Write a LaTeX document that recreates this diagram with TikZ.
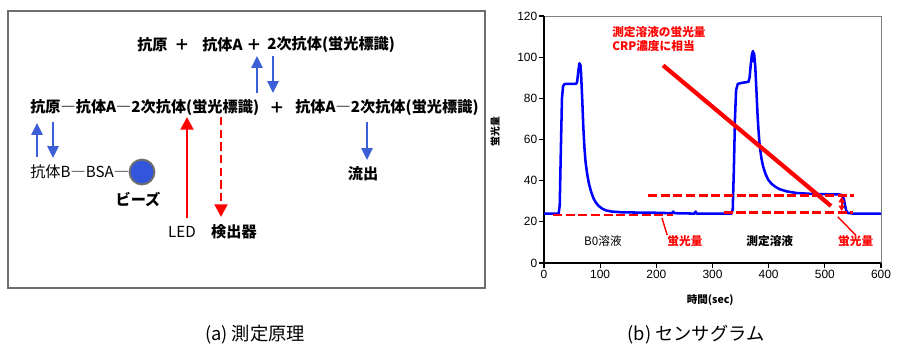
\documentclass[tikz,border=0pt]{standalone}
\usepackage{fontspec}
\setmainfont{Liberation Sans}
\newfontfamily\jp{Noto Sans CJK JP}
\usetikzlibrary{arrows.meta,positioning}
\definecolor{arrowblue}{RGB}{60,95,215}
\definecolor{beadblue}{RGB}{50,85,220}
\definecolor{framegray}{RGB}{110,110,110}

\begin{document}
\begin{tikzpicture}
[x=0.025cm, y=-0.025cm,
 labelB/.style={inner sep=0pt, font=\jp\bfseries\fontsize{10.8}{12}\selectfont},
 labelR/.style={inner sep=0pt, font=\jp\fontsize{10.8}{12}\selectfont},
 beadC/.style={circle, draw=framegray, line width=1.4pt, fill=beadblue, minimum size=0.62cm, inner sep=0pt},
 captionT/.style={inner sep=0pt, font=\jp\fontsize{13}{15}\selectfont},
 blue path/.style={draw=arrowblue, line width=1.3pt, -{Triangle[width=8pt,length=8.5pt]}},
 red path/.style={draw=red, line width=2pt, -{Triangle[width=9pt,length=9pt]}},
 red dash path/.style={red path, dash pattern=on 6pt off 3pt},
 plotlbl/.style={inner sep=0pt, font=\jp\bfseries\fontsize{8.3}{10}\selectfont},
 ticklbl/.style={inner sep=1pt, font=\fontsize{8.5}{9}\selectfont},
 sgcurve/.style={draw=blue, line width=1.8pt, line join=round},
 levelline/.style={draw=red, line width=2pt, dash pattern=on 6.5pt off 2.5pt}]
\useasboundingbox (0,0) rectangle (900,363);
% (a) principle
\draw[framegray, line width=1pt] (8,11) rectangle (485,288);
\node[labelB, anchor=west] (ag)    at (137,45)  {抗原};
\node[labelB]              (pl1)   at (182,45)  {＋};
\node[labelB, anchor=west] (abA)   at (202,45)  {抗体A};
\node[labelB]              (pl2)   at (254,45)  {＋};
\node[labelB, anchor=west] (ab2)   at (267,45)  {2次抗体(蛍光標識)};
\node[labelB, anchor=west] (cplx)  at (30,108)  {抗原―抗体A―2次抗体(蛍光標識)};
\node[labelB]              (pl3)   at (277,108) {＋};
\node[labelB, anchor=west] (free)  at (295,108) {抗体A―2次抗体(蛍光標識)};
\node[labelR, anchor=west] (abB)   at (30,172)  {抗体B―BSA―};
\node[beadC]               (bead)  at (142,172) {};
\node[labelB]              (beadL) at (138,199) {ビーズ};
\node[labelR]              (led)   at (182,232) {LED};
\node[labelB]              (det)   at (234,232) {検出器};
\node[labelB]              (out)   at (363,174) {流出};
\coordinate (upL1)  at ( 37,157);
\coordinate (upL2)  at ( 37,123);
\coordinate (dnL1)  at ( 53,122);
\coordinate (dnL2)  at ( 53,158);
\coordinate (upT1)  at (257, 93);
\coordinate (upT2)  at (257, 56);
\coordinate (dnT1)  at (273, 56);
\coordinate (dnT2)  at (273, 93);
\coordinate (dnR1)  at (367,122);
\coordinate (dnR2)  at (367,160);
\coordinate (ledS)  at (187,218);
\coordinate (ledE)  at (187,117);
\coordinate (detS)  at (221,117);
\coordinate (detE)  at (221,217);
\path (upL1) edge[blue path] (upL2)
      (dnL1) edge[blue path] (dnL2)
      (upT1) edge[blue path] (upT2)
      (dnT1) edge[blue path] (dnT2)
      (dnR1) edge[blue path] (dnR2)
      (ledS) edge[red path] (ledE)
      (detS) edge[red dash path] (detE);
% (b) sensorgram
\begin{scope}[shift={(544,263)}, x=0.014043cm, y=0.05145cm]
\draw[gray, line width=0.6pt] (0,0) rectangle (600,120);
\draw[black, line width=1pt] (0,120) -- (0,0) -- (600,0);
\foreach \v in {0,20,...,120}
  \draw[line width=0.8pt] (0,\v) -- ++(-0.12cm,0) node[ticklbl, anchor=east] {\v};
\foreach \t in {0,100,...,600}
  \draw[line width=0.8pt] (\t,0) -- ++(0,-0.12cm) node[ticklbl, anchor=north] {\t};
\node[plotlbl, rotate=90, font=\jp\bfseries\fontsize{7}{8}\selectfont] (ylab) at (-87,64) {蛍光量};
\node[plotlbl, font=\jp\bfseries\fontsize{7.5}{9}\selectfont] (xlab) at (296,-18) {時間(sec)};
\draw[sgcurve] plot coordinates {(0,24) (26,24) (28,28) (30,55) (32,80) (34,86) (37,87) (57,87)
  (59,88) (61,93) (63,97) (65,96) (66,92) (68,80) (70,66) (72,56) (74,49) (77,43) (80,38.5)
  (84,34.5) (88,31.5) (92,29.5) (97,27.8) (103,26.5) (110,25.6) (120,25) (140,24.6) (200,24.4)
  (228,24.2) (230,25) (232,24.2) (268,24) (270,25) (272,24) (334,24) (336,26) (338,45) (340,70)
  (342,84) (345,87) (352,87.5) (364,88) (366,90) (368,96) (370,101) (372,103) (373,98) (374,102)
  (376,96) (378,85) (380,73) (382,64) (384,57) (387,51) (390,47) (394,43.5) (399,40.5) (405,38.5)
  (412,37) (420,35.8) (432,34.8) (450,34) (480,33.5) (525,33.3) (531,33) (534,31) (536,28)
  (538,25.5) (541,24.3) (550,24) (600,24)};
\draw[levelline] (16,23.3) -- (230,23.3);
\draw[levelline] (320,24.7) -- (550,24.7);
\draw[levelline] (185,32.6) -- (552,32.6);
\draw[red, line width=3pt] (212,96) -- (511,27.7);
\draw[red, line width=1.2pt, {Triangle[width=4.5pt,length=4pt]}-{Triangle[width=4.5pt,length=4pt]}] (530,25.2) -- (530,32.2);
\node[plotlbl, red, anchor=north west, align=left] (note) at (121,115) {測定溶液の蛍光量\\CRP濃度に相当};
\node[plotlbl, font=\jp\fontsize{8.3}{10}\selectfont] (bglab) at (105,10.7) {B0溶液};
\node[plotlbl, red] (fl1) at (251,10.7) {蛍光量};
\node[plotlbl] (smp) at (402,10.7) {測定溶液};
\node[plotlbl, red] (fl2) at (555,10.7) {蛍光量};
\coordinate (ld1) at (210,21.9);
\coordinate (ld2) at (523,22.4);
\path (ld1) edge[red, line width=1pt] (fl1.north west)
      (ld2) edge[red, line width=1pt] (fl2.north);
\end{scope}
\node[captionT] (capA) at (255,335) {(a) 測定原理};
\node[captionT] (capB) at (696,335) {(b) センサグラム};
\end{tikzpicture}
\end{document}
